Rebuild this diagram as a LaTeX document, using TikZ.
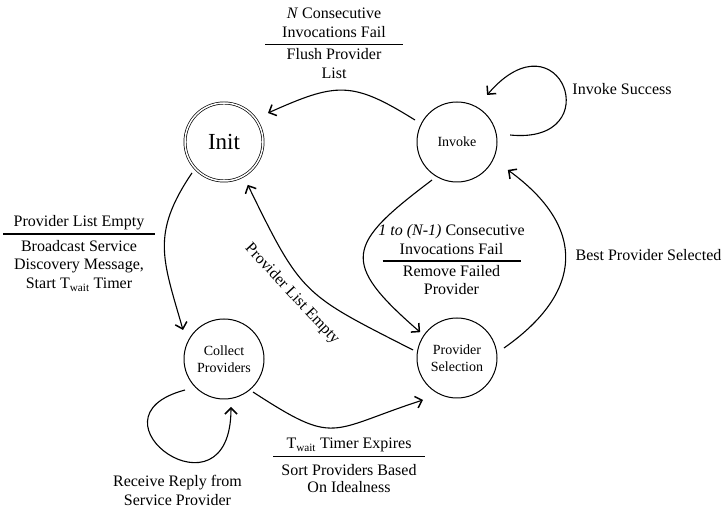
\documentclass[tikz,border=0pt]{standalone}
\usepackage{fontspec}
\setmainfont{Liberation Serif}
\usetikzlibrary{arrows.meta}

\begin{document}
\begin{tikzpicture}[x=1pt,y=1pt,
  statenode/.style={draw, circle, line width=1pt, minimum size=80pt, inner sep=0pt, align=center, font=\fontsize{14}{17}\selectfont},
  lbl/.style={draw=none, anchor=base, inner sep=0pt, font=\fontsize{16}{19}\selectfont},
  trans/.style={line width=1.1pt, -{Straight Barb[length=6pt,width=12pt,line width=1.5pt]}},
  sepline/.style={line width=1.1pt}]
\useasboundingbox (0,0) rectangle (722,510);

% states
\node [statenode, double, double distance=1.5pt, line width=0.7pt, minimum size=78pt, font=\fontsize{23}{27}\selectfont] (init) at (224,368) {Init};
\node [statenode] (invoke) at (457,368) {Invoke};
\node [statenode] (collect) at (224,151) {Collect\\Providers};
\node [statenode] (select) at (457,152) {Provider\\Selection};

% transitions
\draw [trans] ([shift={(152.4:47.4)}]invoke.center) to [out=148, in=24, looseness=1.3] ([shift={(33.4:52.7)}]init.center);
\draw [trans] ([shift={(7.5:53.5)}]invoke.center) .. controls +(100,-10) and +(73,85) .. ([shift={(57.4:55.8)}]invoke.center);
\draw [trans] ([shift={(236.7:45.5)}]invoke.center) to [out=217, in=139, looseness=1.8] ([shift={(145:45)}]select.center);
\draw [trans] ([shift={(12:48)}]select.center) to [out=35, in=-36, looseness=1.4] ([shift={(-28.8:58)}]invoke.center);
\draw [trans] ([shift={(169.7:44.7)}]select.center) to [out=153, in=-64, looseness=1.35] ([shift={(-61:49)}]init.center);
\draw [trans] ([shift={(224:44.5)}]init.center) to [out=236, in=106, looseness=1.2] ([shift={(144.7:50.2)}]collect.center);
\draw [trans] ([shift={(218.5:49.8)}]collect.center) .. controls +(-106,-28) and +(0,-120) .. ([shift={(-81.7:48.5)}]collect.center);
\draw [trans] ([shift={(-48.7:44)}]collect.center) to [out=-33, in=198, looseness=1.5] ([shift={(231:54)}]select.center);

% labels: N failures
\node [lbl] (failN1) at (334,491) {\textit{N} Consecutive};
\node [lbl] (failN2) at (334,472.7) {Invocations Fail};
\draw [sepline] (265,465.7) -- (403,465.7);
\node [lbl] (flush1) at (334,450) {Flush Provider};
\node [lbl] (flush2) at (334,431.7) {List};

\node [lbl] (success) at (622,415.7) {Invoke Success};

% labels: partial failures
\node [lbl] (failK1) at (451.5,274) {\textit{1 to (N-1)} Consecutive};
\node [lbl] (failK2) at (451.5,255) {Invocations Fail};
\draw [sepline] (382.7,249) -- (520.7,249);
\node [lbl] (remove1) at (451.5,233.3) {Remove Failed};
\node [lbl] (remove2) at (451.5,215) {Provider};

\node [lbl] (best) at (648.5,249.5) {Best Provider Selected};

% labels: empty list
\node [lbl] (empty) at (79,283.3) {Provider List Empty};
\draw [sepline] (3,276) -- (155,276);
\node [lbl] (bcast1) at (79,258.3) {Broadcast Service};
\node [lbl] (bcast2) at (79,240) {Discovery Message,};
\node [lbl] (bcast3) at (79,221) {Start T\textsubscript{wait} Timer};

\node [lbl, anchor=center, rotate=-47] (emptyback) at (292,216) {Provider List Empty};

% labels: timer
\node [lbl] (expire) at (349,61) {T\textsubscript{wait} Timer Expires};
\draw [sepline] (273,53.3) -- (425,53.3);
\node [lbl] (sort1) at (349,34.3) {Sort Providers Based};
\node [lbl] (sort2) at (349,17) {On Idealness};

\node [lbl] (reply1) at (177.5,23.3) {Receive Reply from};
\node [lbl] (reply2) at (177.5,4) {Service Provider};

\end{tikzpicture}
\end{document}
